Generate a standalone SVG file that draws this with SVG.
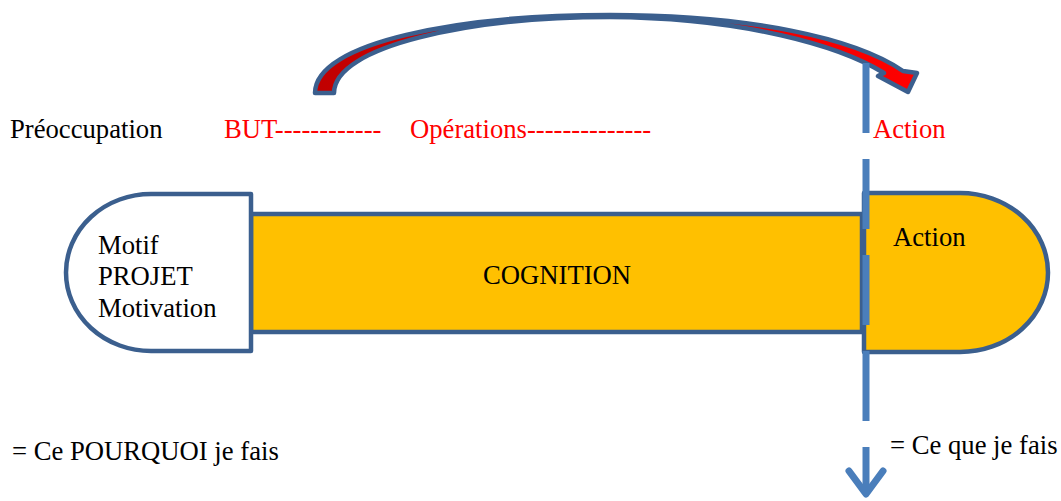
<svg xmlns="http://www.w3.org/2000/svg" width="1061" height="501" viewBox="0 0 1061 501">
  <style>
    text { font-family: "Liberation Serif", "Times New Roman", serif; font-size: 26.67px; fill: #000; }
    .red { fill: #FF0000; }
    .outline { stroke: #3B5F8E; stroke-width: 4.5; stroke-linejoin: round; }
    .gold { fill: #FFC000; }
    .white { fill: #FFFFFF; }
    .axis { stroke: #4A7EBB; stroke-width: 7; fill: none; }
  </style>
  <defs>
    <linearGradient id="arcFill" x1="0" y1="0" x2="1" y2="0">
      <stop offset="0" stop-color="#C00000"/>
      <stop offset="1" stop-color="#FF0000"/>
    </linearGradient>
  </defs>
  <rect width="1061" height="501" fill="#FFFFFF"/>

  <!-- Cognition band -->
  <g id="node-cognition">
    <rect class="gold outline" x="251" y="214" width="611" height="118"/>
    <text x="483" y="284">COGNITION</text>
  </g>

  <!-- Motif / Projet / Motivation -->
  <g id="node-motif">
    <path class="white outline" d="M251,194 L151,194 A85,78.5 0 0 0 151,351 L251,351 Z"/>
    <text x="98" y="254">Motif</text>
    <text x="98" y="285">PROJET</text>
    <text x="98" y="317">Motivation</text>
  </g>

  <!-- Action -->
  <g id="node-action">
    <path class="gold outline" d="M864,193 L960,193 A88,79.5 0 0 1 960,352 L864,352 Z"/>
    <text x="893" y="246">Action</text>
  </g>

  <g id="connectors">
    <!-- curved arrow from BUT towards Action -->
    <path class="outline" fill="url(#arcFill)" stroke-width="5"
          d="M315,93 C315,42 460,15 610,15 C750,15 855,38 903,71 L917,73 L908,92 L878,76 L884,73 C840,46 745,18 610,17 C470,17 334,46 334,93 Z"/>
    <!-- vertical axis -->
    <line class="axis" x1="866" y1="63" x2="866" y2="421" stroke-dasharray="70 26"/>
    <line class="axis" x1="866" y1="447" x2="866" y2="494"/>
    <polyline class="axis" points="849,471 866,494 883,471" stroke-linecap="round" stroke-linejoin="round"/>
  </g>

  <g id="labels">
    <text x="10" y="138">Préoccupation</text>
    <text class="red" x="224" y="138">BUT------------</text>
    <text class="red" x="410" y="138">Opérations--------------</text>
    <text class="red" x="873" y="138">Action</text>
    <text x="12" y="460">= Ce POURQUOI je fais</text>
    <text x="890" y="454">= Ce que je fais</text>
  </g>
</svg>
